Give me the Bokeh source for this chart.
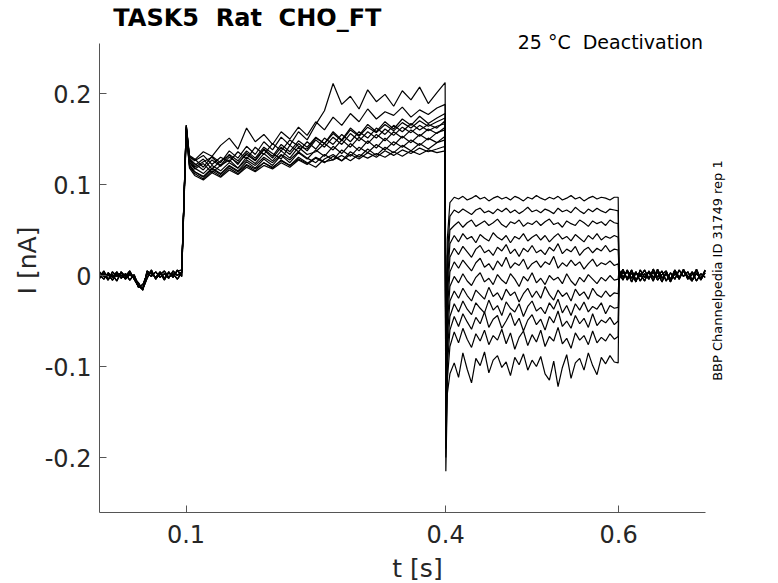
import numpy as np
from bokeh.plotting import figure
from bokeh.models import FixedTicker, Label
from bokeh.embed import file_html
from bokeh.resources import INLINE

# ---------------- data ----------------
T_PRE = [round(v, 4) for v in np.arange(0.0, 0.1, 0.005)]                                      # 20
T_ACT = [0.1003, 0.104] + [round(v, 3) for v in np.arange(0.11, 0.395, 0.01)] + [0.3995]       # 32
T_TAIL = [0.4003, 0.402, 0.405] + [round(v, 4) for v in np.arange(0.41, 0.5951, 0.005)] + [0.5995]  # 42
T_POST = [0.6005] + [round(v, 4) for v in np.arange(0.605, 0.7001, 0.005)]                     # 21

PRE_A = [0.001, -0.004, 0.003, -0.002, 0.004, -0.003, 0.002, -0.005, 0.001, -0.011,
         -0.014, 0.003, -0.001, 0.004, -0.002, 0.002, -0.003, 0.005, 0.000, 0.004]
PRE_B = [-0.003, 0.002, -0.005, 0.004, -0.001, 0.003, -0.004, 0.001, -0.003, -0.008,
         -0.016, 0.005, 0.002, -0.002, 0.004, -0.003, 0.003, -0.001, 0.005, 0.006]
PRE_C = [0.004, -0.001, 0.001, -0.005, 0.002, 0.000, -0.003, 0.003, -0.002, -0.013,
         -0.010, 0.001, 0.004, -0.003, 0.001, 0.005, -0.002, 0.002, -0.004, 0.003]
PRE_D = [-0.002, 0.005, -0.004, 0.001, -0.006, 0.004, -0.001, 0.005, -0.004, -0.012,
         -0.015, -0.003, 0.006, -0.004, 0.003, -0.005, 0.004, -0.002, 0.006, -0.001]

ACT = [
    [0.165, 0.132, 0.128, 0.119, 0.131, 0.124, 0.137, 0.129, 0.142, 0.133, 0.147, 0.138,
     0.152, 0.143, 0.158, 0.149, 0.166, 0.181, 0.211, 0.188, 0.197, 0.183,
     0.204, 0.191, 0.199, 0.186, 0.203, 0.193, 0.207, 0.189, 0.201, 0.212],
    [0.163, 0.130, 0.127, 0.136, 0.131, 0.143, 0.151, 0.139, 0.162, 0.147, 0.155, 0.144,
     0.158, 0.150, 0.163, 0.154, 0.169, 0.160, 0.174, 0.165, 0.178, 0.169,
     0.183, 0.172, 0.180, 0.176, 0.185, 0.174, 0.182, 0.177, 0.184, 0.188],
    [0.165, 0.128, 0.121, 0.128, 0.117, 0.126, 0.132, 0.122, 0.135, 0.127, 0.139, 0.131,
     0.144, 0.136, 0.148, 0.141, 0.152, 0.145, 0.158, 0.149, 0.162, 0.154,
     0.166, 0.158, 0.169, 0.161, 0.172, 0.165, 0.175, 0.167, 0.173, 0.178],
    [0.164, 0.131, 0.126, 0.132, 0.122, 0.130, 0.125, 0.136, 0.128, 0.141, 0.133, 0.145,
     0.137, 0.149, 0.142, 0.139, 0.151, 0.145, 0.156, 0.148, 0.160, 0.153,
     0.163, 0.157, 0.166, 0.159, 0.168, 0.162, 0.170, 0.164, 0.169, 0.173],
    [0.162, 0.127, 0.119, 0.125, 0.130, 0.121, 0.133, 0.126, 0.137, 0.129, 0.141, 0.134,
     0.128, 0.143, 0.136, 0.147, 0.139, 0.151, 0.144, 0.155, 0.147, 0.158,
     0.151, 0.162, 0.155, 0.165, 0.158, 0.167, 0.160, 0.166, 0.162, 0.170],
    [0.165, 0.129, 0.123, 0.116, 0.127, 0.120, 0.130, 0.124, 0.133, 0.126, 0.138, 0.129,
     0.141, 0.133, 0.145, 0.137, 0.149, 0.141, 0.152, 0.144, 0.156, 0.148,
     0.158, 0.151, 0.161, 0.154, 0.163, 0.157, 0.165, 0.159, 0.164, 0.167],
    [0.163, 0.124, 0.117, 0.123, 0.113, 0.121, 0.127, 0.118, 0.130, 0.123, 0.134, 0.126,
     0.137, 0.129, 0.141, 0.133, 0.136, 0.145, 0.138, 0.149, 0.141, 0.152,
     0.145, 0.155, 0.148, 0.158, 0.151, 0.160, 0.153, 0.161, 0.156, 0.163],
    [0.160, 0.122, 0.114, 0.109, 0.118, 0.112, 0.121, 0.115, 0.125, 0.118, 0.128, 0.121,
     0.132, 0.124, 0.135, 0.128, 0.138, 0.131, 0.142, 0.134, 0.145, 0.137,
     0.148, 0.140, 0.151, 0.143, 0.153, 0.146, 0.155, 0.149, 0.157, 0.160],
    [0.161, 0.125, 0.118, 0.112, 0.121, 0.115, 0.124, 0.118, 0.127, 0.121, 0.130, 0.124,
     0.133, 0.127, 0.136, 0.129, 0.124, 0.133, 0.127, 0.138, 0.131, 0.141,
     0.135, 0.144, 0.138, 0.147, 0.141, 0.149, 0.143, 0.151, 0.146, 0.153],
    [0.158, 0.120, 0.112, 0.106, 0.115, 0.109, 0.118, 0.112, 0.121, 0.115, 0.124, 0.118,
     0.127, 0.121, 0.130, 0.124, 0.119, 0.128, 0.133, 0.126, 0.136, 0.130,
     0.139, 0.132, 0.141, 0.135, 0.143, 0.137, 0.145, 0.139, 0.146, 0.149],
    [0.157, 0.118, 0.110, 0.105, 0.113, 0.108, 0.116, 0.111, 0.119, 0.114, 0.121, 0.117,
     0.124, 0.119, 0.127, 0.122, 0.129, 0.124, 0.131, 0.126, 0.133, 0.128,
     0.135, 0.130, 0.137, 0.132, 0.138, 0.134, 0.140, 0.136, 0.139, 0.142],
    [0.155, 0.121, 0.114, 0.108, 0.117, 0.111, 0.120, 0.114, 0.122, 0.117, 0.124, 0.119,
     0.126, 0.121, 0.128, 0.123, 0.130, 0.125, 0.127, 0.132, 0.126, 0.133,
     0.129, 0.134, 0.130, 0.136, 0.131, 0.137, 0.133, 0.138, 0.135, 0.137],
]

TAIL = [
    [-0.140, 0.040, 0.080,
     0.086, 0.084, 0.087, 0.083, 0.085, 0.088, 0.084, 0.086, 0.082, 0.085,
     0.087, 0.084, 0.086, 0.083, 0.087, 0.085, 0.082, 0.086, 0.084, 0.088,
     0.085, 0.083, 0.086, 0.084, 0.087, 0.083, 0.085, 0.088, 0.084, 0.086,
     0.082, 0.085, 0.087, 0.084, 0.086, 0.085, 0.083, 0.086, 0.086],
    [-0.145, 0.020, 0.065,
     0.072, 0.069, 0.073, 0.070, 0.067, 0.072, 0.074, 0.069, 0.071, 0.068,
     0.073, 0.070, 0.074, 0.069, 0.072, 0.068, 0.071, 0.075, 0.070, 0.072,
     0.069, 0.073, 0.071, 0.068, 0.074, 0.070, 0.072, 0.069, 0.075, 0.071,
     0.068, 0.073, 0.070, 0.074, 0.071, 0.069, 0.073, 0.072, 0.071],
    [-0.150, 0.005, 0.050,
     0.055, 0.059, 0.053, 0.058, 0.061, 0.054, 0.057, 0.060, 0.055, 0.058,
     0.062, 0.056, 0.053, 0.059, 0.057, 0.061, 0.054, 0.058, 0.056, 0.060,
     0.055, 0.059, 0.062, 0.056, 0.058, 0.053, 0.060, 0.057, 0.055, 0.061,
     0.058, 0.054, 0.060, 0.057, 0.059, 0.055, 0.061, 0.058, 0.057],
    [-0.155, -0.010, 0.035,
     0.044, 0.037, 0.046, 0.040, 0.043, 0.036, 0.045, 0.041, 0.038, 0.047,
     0.042, 0.039, 0.044, 0.036, 0.043, 0.040, 0.046, 0.038, 0.042, 0.045,
     0.039, 0.044, 0.037, 0.042, 0.046, 0.040, 0.043, 0.038, 0.045, 0.041,
     0.037, 0.044, 0.040, 0.046, 0.039, 0.043, 0.041, 0.044, 0.042],
    [-0.160, -0.025, 0.020,
     0.030, 0.023, 0.032, 0.026, 0.020, 0.029, 0.033, 0.025, 0.028, 0.022,
     0.031, 0.027, 0.034, 0.024, 0.029, 0.021, 0.030, 0.026, 0.033, 0.025,
     0.028, 0.023, 0.031, 0.027, 0.035, 0.024, 0.029, 0.026, 0.032, 0.022,
     0.028, 0.031, 0.025, 0.030, 0.027, 0.033, 0.026, 0.029, 0.028],
    [-0.165, -0.040, 0.004,
     0.015, 0.008, 0.017, 0.011, 0.005, 0.014, 0.019, 0.009, 0.013, 0.006,
     0.016, 0.010, 0.020, 0.008, 0.014, 0.011, 0.018, 0.007, 0.013, 0.016,
     0.009, 0.015, 0.012, 0.021, 0.008, 0.014, 0.010, 0.017, 0.011, 0.015,
     0.007, 0.013, 0.018, 0.010, 0.014, 0.012, 0.016, 0.011, 0.013],
    [-0.170, -0.055, -0.012,
     -0.001, -0.008, 0.002, -0.006, -0.011, -0.002, 0.003, -0.007, -0.003, -0.010,
     0.001, -0.005, -0.009, 0.002, -0.004, -0.012, -0.001, -0.006, 0.003, -0.008,
     -0.003, -0.010, 0.000, -0.005, -0.002, -0.009, 0.002, -0.006, -0.011, -0.002,
     -0.007, 0.001, -0.004, -0.009, -0.002, -0.006, 0.000, -0.005, -0.004],
    [-0.175, -0.070, -0.028,
     -0.017, -0.025, -0.014, -0.022, -0.028, -0.016, -0.021, -0.026, -0.013, -0.023,
     -0.019, -0.027, -0.015, -0.022, -0.018, -0.029, -0.020, -0.014, -0.024, -0.017,
     -0.025, -0.012, -0.021, -0.027, -0.016, -0.023, -0.019, -0.028, -0.015, -0.022,
     -0.018, -0.026, -0.014, -0.021, -0.024, -0.017, -0.023, -0.019, -0.020],
    [-0.180, -0.085, -0.045,
     -0.031, -0.040, -0.028, -0.037, -0.043, -0.030, -0.036, -0.041, -0.027, -0.038,
     -0.033, -0.044, -0.029, -0.036, -0.040, -0.031, -0.045, -0.034, -0.028, -0.039,
     -0.035, -0.042, -0.030, -0.037, -0.026, -0.041, -0.033, -0.044, -0.031, -0.038,
     -0.029, -0.040, -0.034, -0.037, -0.030, -0.042, -0.033, -0.036, -0.035],
    [-0.190, -0.100, -0.060,
     -0.045, -0.056, -0.042, -0.051, -0.059, -0.046, -0.053, -0.040, -0.057, -0.048,
     -0.044, -0.058, -0.050, -0.041, -0.055, -0.047, -0.061, -0.049, -0.043, -0.054,
     -0.048, -0.060, -0.045, -0.052, -0.039, -0.056, -0.050, -0.058, -0.044, -0.053,
     -0.047, -0.057, -0.042, -0.055, -0.049, -0.052, -0.046, -0.054, -0.050],
    [-0.200, -0.115, -0.078,
     -0.062, -0.074, -0.058, -0.070, -0.079, -0.064, -0.072, -0.060, -0.076, -0.066,
     -0.071, -0.059, -0.075, -0.063, -0.081, -0.068, -0.061, -0.077, -0.065, -0.073,
     -0.060, -0.078, -0.067, -0.072, -0.057, -0.075, -0.069, -0.080, -0.063, -0.071,
     -0.066, -0.076, -0.061, -0.074, -0.068, -0.072, -0.064, -0.070, -0.067],
    [-0.215, -0.130, -0.108,
     -0.096, -0.112, -0.085, -0.103, -0.118, -0.091, -0.099, -0.084, -0.107, -0.093,
     -0.088, -0.101, -0.095, -0.110, -0.090, -0.098, -0.086, -0.104, -0.093, -0.100,
     -0.089, -0.108, -0.115, -0.094, -0.122, -0.101, -0.087, -0.113, -0.096, -0.091,
     -0.104, -0.085, -0.099, -0.109, -0.090, -0.097, -0.088, -0.095, -0.096],
]

POST_A = [0.003, -0.005, 0.006, -0.003, 0.004, -0.006, 0.002, -0.004, 0.007, -0.002, 0.005,
          -0.006, 0.003, -0.004, 0.006, -0.001, 0.004, -0.005, 0.002, -0.003, 0.005]
POST_B = [-0.004, 0.004, -0.003, 0.006, -0.005, 0.002, -0.006, 0.005, -0.002, 0.004, -0.007,
          0.003, -0.004, 0.006, -0.002, 0.005, -0.003, 0.004, -0.006, 0.002, -0.002]
POST_C = [0.006, -0.002, 0.005, -0.007, 0.003, -0.001, 0.006, -0.003, 0.004, -0.005, 0.001,
          0.005, -0.006, 0.002, -0.003, 0.007, -0.004, 0.001, 0.005, -0.005, 0.003]
POST_D = [-0.002, 0.007, -0.005, 0.003, -0.007, 0.006, -0.002, 0.004, -0.006, 0.007, -0.003,
          0.002, -0.007, 0.005, -0.004, 0.006, -0.001, -0.006, 0.007, -0.004, 0.006]

X_TICKS = [0.1, 0.4, 0.6]
Y_TICKS = [-0.2, -0.1, 0.0, 0.1, 0.2]
Y_TICK_LABELS = {-0.2: "-0.2", -0.1: "-0.1", 0.0: "0", 0.1: "0.1", 0.2: "0.2"}
X_AXIS_SPAN = (0.0, 0.7)
Y_AXIS_SPAN = (-0.26, 0.255)

TITLE = "TASK5 \u00a0Rat \u00a0CHO_FT"
NOTE = "25 \u00b0C \u00a0Deactivation"
SIDE = "BBP Channelpedia ID 31749 rep 1"

# ---------------- figure ----------------
PRES = [PRE_A, PRE_B, PRE_C, PRE_D]
POSTS = [POST_A, POST_B, POST_C, POST_D]
xs, ys = [], []
for i in range(len(ACT)):
    xs.append(list(T_PRE) + T_ACT + T_TAIL + T_POST)
    ys.append(PRES[i % 4] + ACT[i] + TAIL[i] + POSTS[i % 4])

FONT = "DejaVu Sans"
AX = "#262626"

p = figure(frame_width=636, frame_height=504, min_border_left=80, min_border_right=10,
           min_border_top=8, min_border_bottom=63, margin=(0, 0, 0, 9),
           x_range=(0.0, 0.7351), y_range=(-0.2604, 0.2934),
           output_backend="svg", toolbar_location=None)
p.multi_line(xs, ys, line_color="black", line_width=1.2)

p.xgrid.visible = False
p.ygrid.visible = False
p.outline_line_color = None

for ax in (p.xaxis[0], p.yaxis[0]):
    ax.axis_line_color = "#555555"
    ax.major_tick_line_color = "#555555"
    ax.major_tick_in = 7
    ax.major_tick_out = 0
    ax.minor_tick_line_color = None
    ax.major_label_text_font = FONT
    ax.major_label_text_font_size = "24px"
    ax.major_label_text_color = AX
    ax.axis_label_text_font = FONT
    ax.axis_label_text_font_size = "25px"
    ax.axis_label_text_font_style = "normal"
    ax.axis_label_text_color = AX

p.xaxis.bounds = X_AXIS_SPAN
p.yaxis.bounds = Y_AXIS_SPAN
p.xaxis.ticker = FixedTicker(ticks=X_TICKS)
p.yaxis.ticker = FixedTicker(ticks=Y_TICKS)
p.yaxis.major_label_overrides = Y_TICK_LABELS
p.xaxis.axis_label = "t [s]"
p.yaxis.axis_label = "I [nA]"
p.xaxis.major_label_standoff = 12
p.yaxis.major_label_standoff = 8
p.xaxis.axis_label_standoff = 8
p.yaxis.axis_label_standoff = 0

p.add_layout(Label(x=0.0160, y=0.2835, text=TITLE, text_align="left", text_baseline="alphabetic",
                   text_font=FONT, text_font_size="24px", text_font_style="bold",
                   text_color="black"))
p.add_layout(Label(x=0.6977, y=0.2561, text=NOTE, text_align="right", text_baseline="alphabetic",
                   text_font=FONT, text_font_size="19px", text_color="black"))
p.add_layout(Label(x=0.7139, y=0.0055, text=SIDE, angle=np.pi / 2, text_align="center",
                   text_baseline="middle", text_font=FONT, text_font_size="13px",
                   text_color="black"))

open("out.html", "w").write(file_html(p, INLINE))
